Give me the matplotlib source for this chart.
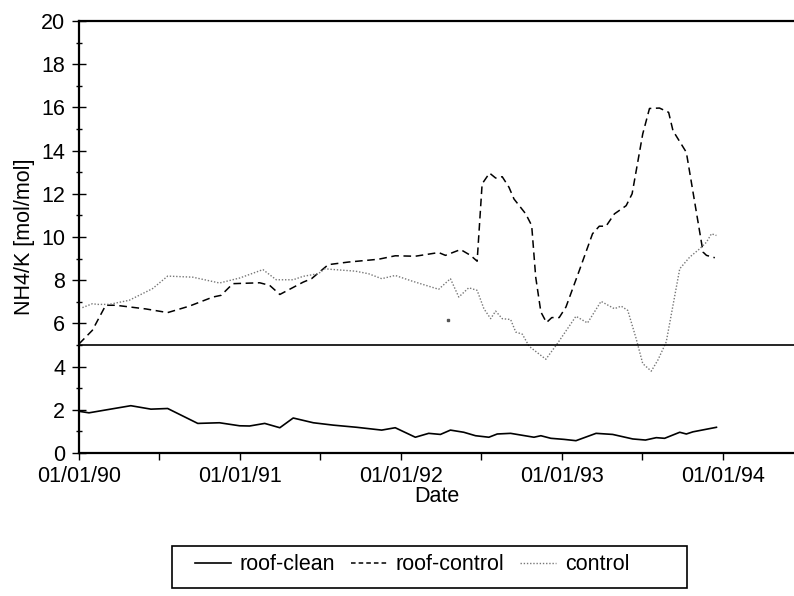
import matplotlib
matplotlib.use('Agg')

import matplotlib.pyplot as plt
from matplotlib.lines import Line2D
from matplotlib.patches import Rectangle
from matplotlib.ticker import FixedLocator, MultipleLocator

plt.rcParams['font.family'] = ['Liberation Sans', 'DejaVu Sans']

# sampling times in decimal years, NH4/K ratios in mol/mol
clean_t = [1990.00, 1990.062, 1990.164, 1990.322, 1990.447, 1990.551, 1990.738,
           1990.873, 1990.998, 1991.06, 1991.154, 1991.248, 1991.331, 1991.456,
           1991.580, 1991.726, 1991.881, 1991.965, 1992.09, 1992.173, 1992.246,
           1992.308, 1992.391, 1992.464, 1992.547, 1992.599, 1992.682, 1992.827,
           1992.870, 1992.932, 1993.015, 1993.088, 1993.213, 1993.316, 1993.441,
           1993.520, 1993.587, 1993.639, 1993.733, 1993.774, 1993.815, 1993.961]
clean_v = [1.93, 1.86, 1.99, 2.19, 2.03, 2.06, 1.37,
           1.40, 1.26, 1.25, 1.37, 1.17, 1.62, 1.40,
           1.29, 1.19, 1.06, 1.17, 0.73, 0.91, 0.86,
           1.06, 0.96, 0.80, 0.73, 0.88, 0.91, 0.73,
           0.80, 0.68, 0.63, 0.57, 0.91, 0.86, 0.65,
           0.60, 0.71, 0.68, 0.96, 0.88, 0.98, 1.19]

roofctl_t = [1990.00, 1990.083, 1990.166, 1990.228, 1990.415, 1990.551, 1990.686,
             1990.832, 1990.883, 1990.956, 1991.123, 1991.185, 1991.248, 1991.393,
             1991.445, 1991.549, 1991.674, 1991.861, 1991.965, 1992.090, 1992.235,
             1992.277, 1992.371, 1992.433, 1992.474, 1992.505, 1992.551, 1992.589,
             1992.630, 1992.672, 1992.703, 1992.776, 1992.813, 1992.838, 1992.870,
             1992.905, 1992.938, 1992.984, 1993.026, 1993.109, 1993.191, 1993.233,
             1993.275, 1993.327, 1993.400, 1993.437, 1993.503, 1993.545, 1993.607,
             1993.664, 1993.691, 1993.774, 1993.878, 1993.899, 1993.951]
roofctl_v = [5.05, 5.68, 6.84, 6.84, 6.67, 6.50, 6.80,
             7.22, 7.30, 7.84, 7.88, 7.76, 7.34, 7.91,
             8.07, 8.72, 8.84, 8.97, 9.13, 9.11, 9.28,
             9.15, 9.42, 9.15, 8.88, 12.46, 12.96, 12.73,
             12.79, 12.30, 11.76, 11.07, 10.53, 8.14, 6.53,
             6.04, 6.27, 6.27, 6.76, 8.45, 10.15, 10.50,
             10.50, 11.07, 11.45, 12.00, 14.77, 15.95, 15.97,
             15.77, 14.92, 13.92, 9.30, 9.15, 9.04]

control_t = [1990.021, 1990.083, 1990.114, 1990.187, 1990.312, 1990.457, 1990.551,
             1990.707, 1990.873, 1990.998, 1991.143, 1991.226, 1991.331, 1991.393,
             1991.487, 1991.528, 1991.570, 1991.716, 1991.799, 1991.881, 1991.965,
             1992.069, 1992.235, 1992.308, 1992.360, 1992.422, 1992.474, 1992.516,
             1992.558, 1992.589, 1992.630, 1992.682, 1992.714, 1992.755, 1992.797,
             1992.901, 1992.973, 1993.088, 1993.160, 1993.244, 1993.327, 1993.369,
             1993.410, 1993.462, 1993.503, 1993.556, 1993.597, 1993.649, 1993.733,
             1993.795, 1993.858, 1993.899, 1993.930, 1993.961]
control_v = [6.73, 6.91, 6.88, 6.88, 7.07, 7.61, 8.19,
             8.14, 7.87, 8.10, 8.49, 8.02, 8.02, 8.18,
             8.30, 8.53, 8.50, 8.42, 8.30, 8.07, 8.22,
             7.96, 7.58, 8.07, 7.22, 7.65, 7.53, 6.68,
             6.22, 6.57, 6.22, 6.18, 5.60, 5.50, 4.94,
             4.34, 5.07, 6.33, 6.02, 7.02, 6.68, 6.80,
             6.60, 5.30, 4.14, 3.79, 4.30, 5.14, 8.53,
             9.07, 9.46, 9.76, 10.15, 10.07]

# single isolated control sample
lone_t = [1992.29]
lone_v = [6.18]

threshold = 5
years = [1990, 1991, 1992, 1993, 1994]
year_labels = ['01/01/90', '01/01/91', '01/01/92', '01/01/93', '01/01/94']

FS = 15.5

fig = plt.figure(figsize=(7.94, 5.96), dpi=100)
ax = fig.add_axes([79 / 794, 1 - 453 / 596, 1 - 79 / 794, 432 / 596])

ax.plot(clean_t, clean_v, color='black', lw=1.2)
ax.plot(roofctl_t, roofctl_v, color='black', lw=1.1, ls=(0, (5, 3)))
ax.plot(control_t, control_v, color='#777777', lw=1.0, ls=(0, (1, 1.3)))
ax.plot(lone_t, lone_v, ls='none', marker='s', ms=1.5, color='#555555')
ax.axhline(threshold, color='black', lw=1.2)

ax.set_xlim(1990.0, 1994.443)
ax.set_ylim(0, 20)

ax.xaxis.set_major_locator(FixedLocator(years))
ax.xaxis.set_minor_locator(MultipleLocator(0.5))
ax.set_xticklabels(year_labels)
ax.yaxis.set_major_locator(MultipleLocator(2))
ax.yaxis.set_minor_locator(MultipleLocator(1))

ax.tick_params(axis='x', which='both', direction='out', length=5, width=1,
               labelsize=FS, pad=4)
ax.tick_params(axis='y', which='major', direction='inout', length=10, width=1,
               labelsize=FS, pad=5)
ax.tick_params(axis='y', which='minor', direction='inout', length=4, width=1)

ax.spines['right'].set_visible(False)
for side in ['left', 'top', 'bottom']:
    ax.spines[side].set_linewidth(1.6)

ax.set_xlabel('Date', fontsize=FS, labelpad=0)
ax.set_ylabel('NH4/K [mol/mol]', fontsize=FS, labelpad=4)

# legend entries without frame, box drawn separately so it can be wider
handles = [
    Line2D([], [], color='black', lw=1.2),
    Line2D([], [], color='black', lw=1.1, ls=(0, (3, 2))),
    Line2D([], [], color='#777777', lw=1.0, ls=(0, (1, 1.3))),
]
fig.legend(handles, ['roof-clean', 'roof-control', 'control'],
           loc='center right', bbox_to_anchor=(640 / 794, 1 - 565 / 596),
           ncol=3, fontsize=FS, frameon=False, borderpad=0,
           handlelength=1.7, handletextpad=0.4, columnspacing=0.7)
fig.patches.append(Rectangle((172 / 794, 1 - 588 / 596), 515 / 794, 42 / 596,
                             transform=fig.transFigure, fill=False,
                             edgecolor='black', lw=1.2))

fig.savefig('out.png', dpi=100)
